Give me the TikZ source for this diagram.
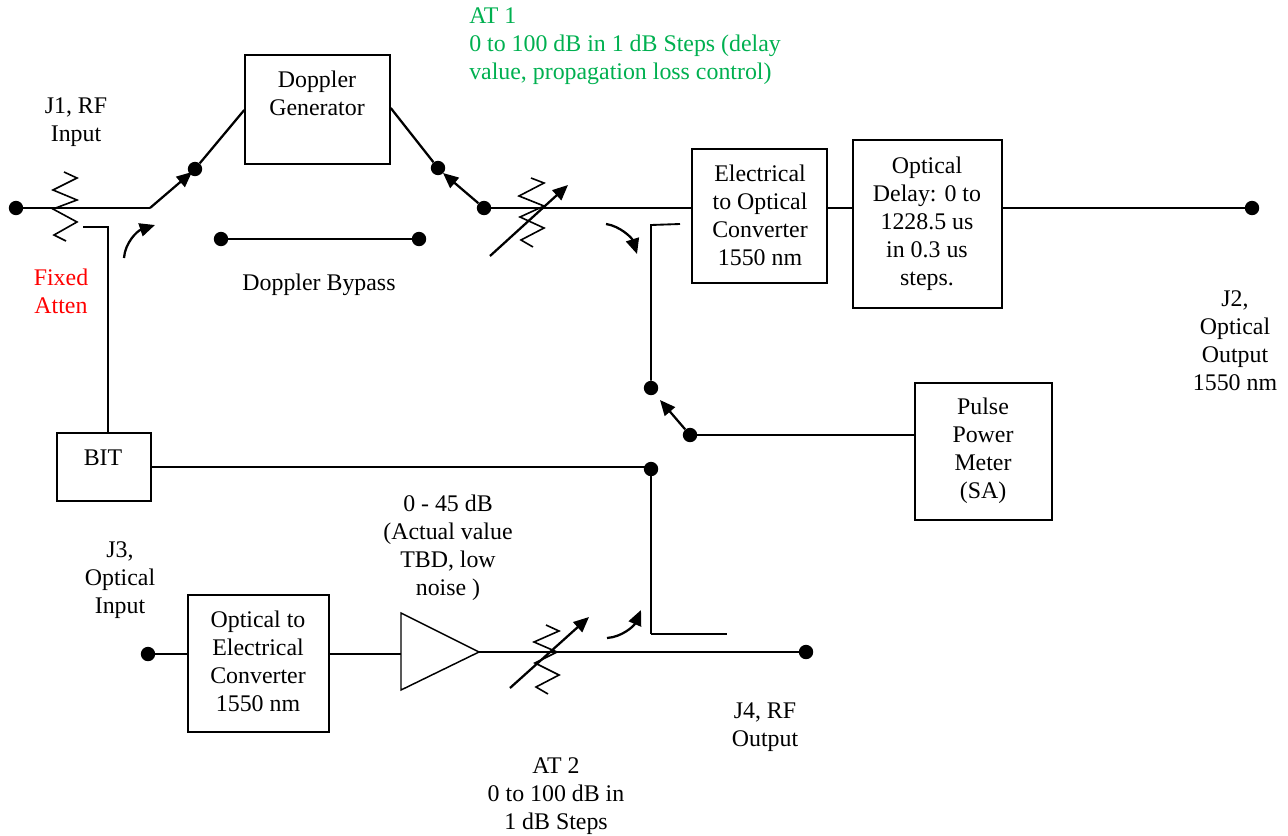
\documentclass[tikz,border=0pt]{standalone}
\usepackage{fontspec}
\setmainfont{Liberation Serif}
\usetikzlibrary{arrows.meta,shapes.geometric}
\definecolor{atgreen}{HTML}{00B050}
\tikzset{
  x=0.75pt,y=-0.75pt,
  wire/.style={draw=black,line width=1.7pt},
  thin wire/.style={draw=black,line width=1.4pt},
  zig/.style={draw=black,line width=1.2pt,line join=miter},
  tipped/.style={wire,-{Triangle[length=11.5pt,width=10pt]}},
  port/.style={circle,fill=black,draw=none,minimum size=10.8pt,inner sep=0pt},
  blockbox/.style={rectangle,draw=black,line width=1.1pt,inner sep=0pt},
  txt/.style={font=\fontsize{17.9}{21}\selectfont,align=center,inner sep=0pt},
}
\begin{document}
\begin{tikzpicture}
\useasboundingbox (0,0) rectangle (1288,835);
% blocks
\node[blockbox,minimum width=108.75pt,minimum height=81.75pt] (dop) at (317.5,109.5) {};
\node[blockbox,minimum width=101.25pt,minimum height=100.5pt] (eo) at (759.5,216) {};
\node[blockbox,minimum width=111.75pt,minimum height=126pt] (delay) at (927.5,224) {};
\node[blockbox,minimum width=102.75pt,minimum height=102.75pt] (ppm) at (983.5,451.5) {};
\node[blockbox,minimum width=70.5pt,minimum height=51pt] (bit) at (104,467) {};
\node[blockbox,minimum width=105.75pt,minimum height=102.75pt] (oe) at (258.5,663.5) {};
\coordinate (ta) at (401,613); \coordinate (tb) at (401,690); \coordinate (tc) at (479,652);
\draw[blockbox] (ta) -- (tb) -- (tc) -- cycle;
% ports
\node[port] (j1) at (16,208) {};
\node[port] (swa) at (195,169) {};
\node[port] (swb) at (438,168) {};
\node[port] (swc) at (484,208) {};
\node[port] (bya) at (221,239) {};
\node[port] (byb) at (419,239) {};
\node[port] (j2) at (1252,208) {};
\node[port] (swd) at (651,388) {};
\node[port] (swe) at (690,435) {};
\node[port] (swf) at (651,469) {};
\node[port] (j3) at (148,654) {};
\node[port] (j4) at (806,652) {};
% free ends
\coordinate (k1) at (150,208);
\coordinate (k2) at (192,172);
\coordinate (k3) at (443,173);
\coordinate (k4) at (660,400);
\coordinate (b1) at (108,227);
\coordinate (b2) at (83,227);
\coordinate (s1) at (651,225);
\coordinate (s2) at (680,224);
\coordinate (s3) at (651,634);
\coordinate (s4) at (727,634);
\coordinate (s5) at (651,467);
% wires
\draw[wire] (j1) -- (k1);
\draw[tipped] (k1) -- (k2);
\draw[wire] (swa) -- (dop.west |- 0,110);
\draw[wire] (dop.east |- 0,108) -- (swb);
\draw[tipped] (swc) -- (k3);
\draw[wire] (swc) -- (eo.west |- swc);
\draw[wire] (eo.east |- swc) -- (delay.west |- swc);
\draw[wire] (delay.east |- swc) -- (j2);
\draw[wire] (bya) -- (byb);
\draw[thin wire] (bit.north -| b1) -- (b1) -- (b2);
\draw[thin wire] (swd) -- (s1) -- (s2);
\draw[tipped] (swe) -- (k4);
\draw[thin wire] (swe) -- (ppm.west |- swe);
\draw[thin wire] (bit.east |- s5) -- (s5);
\draw[wire] (swf) -- (s3);
\draw[thin wire] (s3) -- (s4);
\draw[wire] (j3) -- (oe.west |- j3);
\draw[wire] (oe.east |- j3) -- (ta |- j3);
\draw[wire] (tc) -- (j4);
% attenuators
\draw[zig] (64,172) -- (77,178) -- (53,190) -- (77,200) -- (53,209) -- (77,222) -- (54,235) -- (66,241);
\draw[zig] (531,178) -- (544,183) -- (519,196) -- (544,206) -- (520,217) -- (544,228) -- (521,240) -- (533,247);
\draw[zig] (546,625) -- (559,631) -- (534,642) -- (557,652) -- (535,663) -- (559,675) -- (536,687) -- (548,694);
\coordinate (a1) at (490,256); \coordinate (a2) at (568,185);
\coordinate (a3) at (510,688); \coordinate (a4) at (589,617);
\draw[tipped] (a1) -- (a2);
\draw[tipped] (a3) -- (a4);
% throw arrows
\coordinate (c1) at (124,258); \coordinate (c2) at (155,225);
\coordinate (c3) at (606,224); \coordinate (c4) at (637,254);
\coordinate (c5) at (607,638); \coordinate (c6) at (641,610);
\draw[tipped] (c1) .. controls (125,243) and (137,231) .. (c2);
\draw[tipped] (c3) .. controls (620,226) and (632,238) .. (c4);
\draw[tipped] (c5) .. controls (622,637) and (634,626) .. (c6);
% labels
\node[txt] (tj1) at (76,122) {J1, RF\\Input};
\node[txt] (tdop) at (317,93) {Doppler\\Generator};
\node[txt,anchor=west,align=left,text=atgreen] (tat1) at (469,46) {AT 1\\0 to 100 dB in 1 dB Steps (delay\\value, propagation loss control)};
\node[txt,text=red] (tfix) at (61,291) {Fixed\\Atten};
\node[txt] (tbyp) at (319,285) {Doppler Bypass};
\node[txt] (teo) at (760,215) {Electrical\\to Optical\\Converter\\1550 nm};
\node[txt] (tdel) at (927,224) {Optical\\Delay: 0 to\\1228.5 us\\in 0.3 us\\steps.};
\node[txt] (tj2) at (1235,341) {J2,\\Optical\\Output\\1550 nm};
\node[txt] (tppm) at (983,451) {Pulse\\Power\\Meter\\(SA)};
\node[txt] (tbit) at (103,458) {BIT};
\node[txt] (tamp) at (448,548) {0 - 45 dB\\(Actual value\\TBD, low\\noise )};
\node[txt] (tj3) at (120,580) {J3,\\Optical\\Input};
\node[txt] (toe) at (258,661) {Optical to\\Electrical\\Converter\\1550 nm};
\node[txt] (tj4) at (765,727) {J4, RF\\Output};
\node[txt] (tat2) at (556,796) {AT 2\\0 to 100 dB in\\1 dB Steps};
\end{tikzpicture}
\end{document}
